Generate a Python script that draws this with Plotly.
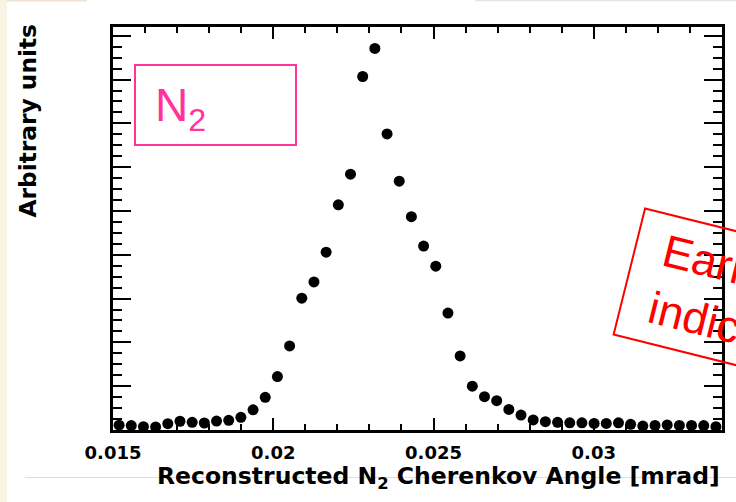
import plotly.graph_objects as go

# Bin centres of the histogram (reconstructed N2 Cherenkov angle, mrad)
angle = [0.01519, 0.01557, 0.01595, 0.01633, 0.01671, 0.01709, 0.01747, 0.01785, 0.01823, 0.01861,
         0.01899, 0.01937, 0.01975, 0.02013, 0.02051, 0.02089, 0.02127, 0.02165, 0.02203, 0.02241,
         0.02279, 0.02317, 0.02355, 0.02393, 0.02431, 0.02469, 0.02507, 0.02545, 0.02583, 0.02621,
         0.02659, 0.02697, 0.02735, 0.02773, 0.02811, 0.02849, 0.02887, 0.02925, 0.02963, 0.03001,
         0.03039, 0.03077, 0.03115, 0.03153, 0.03191, 0.03229, 0.03267, 0.03305, 0.03343, 0.03381]
counts = [1.1, 1.0, 0.75, 0.7, 1.45, 2.0, 1.75, 1.6, 2.05, 2.2,
          2.9, 4.6, 7.45, 12.2, 19.2, 30.1, 33.8, 40.6, 51.4, 58.4,
          80.7, 87.1, 67.6, 56.8, 48.7, 42.0, 37.4, 26.7, 16.9, 10.0,
          7.6, 6.7, 4.7, 3.4, 2.3, 1.9, 1.75, 1.65, 1.65, 1.5,
          1.5, 1.65, 1.3, 0.9, 1.05, 1.15, 1.05, 1.05, 1.0, 0.75]

x_ticks = [0.015, 0.02, 0.025, 0.03]
x_tick_labels = ["0.015", "0.02", "0.025", "0.03"]

W, H = 736, 502
L, R, T, B = 113, 14, 27, 72
PW, PH = W - L - R, H - T - B


def px(xp):
    return (xp - L) / PW


def py(yp):
    return (H - B - yp) / PH


bold = dict(family="DejaVu Sans", color="black", weight="bold")

fig = go.Figure()
fig.add_trace(go.Scatter(
    x=angle, y=counts, mode="markers",
    marker=dict(color="black", size=11, line=dict(width=0)),
    cliponaxis=False, showlegend=False,
))

fig.update_layout(
    width=W, height=H,
    margin=dict(l=L, r=R, t=T, b=B, pad=0),
    paper_bgcolor="white", plot_bgcolor="white",
    xaxis=dict(
        range=[0.015, 0.034], tickvals=x_ticks, ticktext=x_tick_labels,
        ticks="inside", ticklen=12, tickwidth=2, tickcolor="black",
        showline=True, linewidth=3, linecolor="black", mirror="ticks",
        showgrid=False, zeroline=False, ticklabelstandoff=4,
        tickfont=dict(size=18, **bold),
        minor=dict(dtick=0.001, tick0=0.015, ticks="inside", ticklen=6,
                   tickwidth=2, tickcolor="black", showgrid=False),
    ),
    yaxis=dict(
        range=[0, 92], dtick=10, tick0=0,
        ticks="inside", ticklen=18, tickwidth=2, tickcolor="black",
        showline=True, linewidth=3, linecolor="black", mirror="ticks",
        showgrid=False, zeroline=False, showticklabels=False,
        minor=dict(dtick=2.5, tick0=0, ticks="inside", ticklen=9,
                   tickwidth=2, tickcolor="black", showgrid=False),
    ),
    shapes=[
        dict(type="rect", xref="paper", yref="paper", x0=px(0), x1=px(7), y0=py(H), y1=py(0),
             fillcolor="#f8f4e4", line=dict(width=0), layer="below"),
        dict(type="rect", xref="paper", yref="paper", x0=px(7), x1=px(87), y0=py(1.5), y1=py(0),
             fillcolor="#efe2d2", line=dict(width=0), layer="below"),
        dict(type="rect", xref="paper", yref="paper", x0=px(475), x1=px(736), y0=py(1.2), y1=py(0),
             fillcolor="#e6e6e6", line=dict(width=0), layer="below"),
        dict(type="line", xref="paper", yref="paper", x0=px(25), x1=px(736), y0=py(477.5), y1=py(477.5),
             line=dict(color="#e2ddd8", width=1), layer="below"),
        dict(type="rect", xref="paper", yref="paper", x0=px(135), x1=px(296), y0=py(145), y1=py(65),
             line=dict(color="#ff3399", width=2), fillcolor="rgba(0,0,0,0)"),
    ],
    annotations=[
        dict(text="Reconstructed N<sub>2</sub> Cherenkov Angle [mrad]", xref="paper", yref="paper",
             x=1, y=py(460), xanchor="right", yanchor="top", showarrow=False,
             font=dict(size=23.5, **bold)),
        dict(text="Arbitrary units", xref="paper", yref="paper", textangle=-90,
             x=px(27), y=py(23), xanchor="center", yanchor="top", showarrow=False,
             font=dict(size=23.3, **bold)),
        dict(text="N<sub>2</sub>", xref="paper", yref="paper",
             x=px(153), y=py(108), xanchor="left", yanchor="middle", showarrow=False,
             font=dict(family="Liberation Sans", size=46, color="#ff3399")),
        dict(text="\u2009\u2009Early<br>\u2009\u2009indication", xref="paper", yref="paper", textangle=14,
             x=px(612), y=py(207), xanchor="left", yanchor="top", showarrow=False, align="left",
             bordercolor="#ff0000", borderwidth=2, borderpad=9,
             font=dict(family="Liberation Sans", size=45, color="#ff0000")),
    ],
)

fig.write_html("out.html")
